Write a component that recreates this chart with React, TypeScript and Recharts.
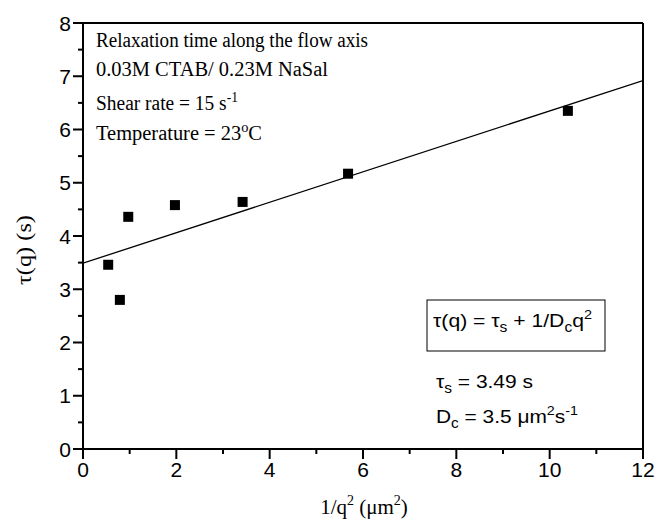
import { ScatterChart, Scatter, XAxis, YAxis, ReferenceLine } from "recharts";

// measured relaxation times
const invQ2 = [0.54, 0.79, 0.97, 1.97, 3.42, 5.68, 10.39];
const tau = [3.46, 2.8, 4.36, 4.58, 4.64, 5.17, 6.35];

// linear fit tau = 3.49 + x / 3.5, endpoints of the drawn line
const fitX = [0, 12];
const fitY = [3.49, 6.92];

const xTicks = [0, 1, 2, 3, 4, 5, 6, 7, 8, 9, 10, 11, 12];
const yTicks = [0, 0.5, 1, 1.5, 2, 2.5, 3, 3.5, 4, 4.5, 5, 5.5, 6, 6.5, 7, 7.5, 8];

const points = invQ2.map((x, i) => ({ x, y: tau[i] }));
const fit = fitX.map((x, i) => ({ x, y: fitY[i] }));

const W = 660;
const H = 522;
const tickFont = "'Liberation Sans', Arial, sans-serif";
const serif = "'Liberation Serif', 'Times New Roman', serif";

function XTick(props: any) {
  const { x, y, payload } = props;
  const major = payload.value % 2 === 0;
  return (
    <g>
      <line x1={x} x2={x} y1={y} y2={y + (major ? 10 : 5)} stroke="#000" strokeWidth={2} />
      {major && (
        <text x={x} y={y + 13} dy="0.71em" textAnchor="middle" fontSize={21} fontFamily={tickFont} fill="#000">
          {payload.value}
        </text>
      )}
    </g>
  );
}

function YTick(props: any) {
  const { x, y, payload } = props;
  const major = Number.isInteger(payload.value);
  return (
    <g>
      <line x1={x - (major ? 10 : 5)} x2={x} y1={y} y2={y} stroke="#000" strokeWidth={2} />
      {major && (
        <text x={x - 12} y={y} dy="0.36em" textAnchor="end" fontSize={21} fontFamily={tickFont} fill="#000">
          {payload.value}
        </text>
      )}
    </g>
  );
}

function Square(props: any) {
  const { cx, cy } = props;
  return <rect x={cx - 5} y={cy - 5} width={10} height={10} fill="#000" />;
}

export default function App() {
  return (
    <div style={{ position: "fixed", left: 0, top: 0, width: W, height: H, background: "#fff" }}>
      <ScatterChart width={W} height={H} margin={{ top: 23, right: 17, left: 0, bottom: 0 }}>
        <XAxis
          type="number"
          dataKey="x"
          domain={[0, 12]}
          ticks={xTicks}
          interval={0}
          height={73}
          tickSize={0}
          tickMargin={0}
          tick={<XTick />}
          axisLine={{ stroke: "#000", strokeWidth: 2 }}
          allowDataOverflow
        />
        <YAxis
          type="number"
          dataKey="y"
          domain={[0, 8]}
          ticks={yTicks}
          interval={0}
          width={83}
          tickSize={0}
          tickMargin={0}
          tick={<YTick />}
          axisLine={{ stroke: "#000", strokeWidth: 2 }}
          allowDataOverflow
        />
        <ReferenceLine y={8} stroke="#000" strokeWidth={2} />
        <ReferenceLine x={12} stroke="#000" strokeWidth={2} />
        <Scatter
          data={fit}
          line={{ stroke: "#000", strokeWidth: 1.3 }}
          shape={() => <g />}
          isAnimationActive={false}
        />
        <Scatter data={points} shape={<Square />} isAnimationActive={false} />
      </ScatterChart>
      <svg width={W} height={H} style={{ position: "absolute", left: 0, top: 0, pointerEvents: "none" }}>
        <g fontFamily={serif} fontSize={20} fill="#000">
          <text x={96} y={47} textLength={272} lengthAdjust="spacingAndGlyphs">
            Relaxation time along the flow axis
          </text>
          <text x={96} y={76} textLength={232} lengthAdjust="spacingAndGlyphs">
            0.03M CTAB/ 0.23M NaSal
          </text>
          <text x={96} y={110} textLength={142} lengthAdjust="spacingAndGlyphs">
            Shear rate = 15 s
            <tspan fontSize={14} dy={-8}>-1</tspan>
          </text>
          <text x={96} y={140} textLength={166} lengthAdjust="spacingAndGlyphs">
            Temperature = 23
            <tspan fontSize={14} dy={-8}>o</tspan>
            <tspan dy={8}>C</tspan>
          </text>
        </g>
        <rect x={427} y={300} width={178} height={51} fill="none" stroke="#000" strokeWidth={1} />
        <g fontFamily={tickFont} fontSize={19} fill="#000">
          <text x={433} y={327} textLength={159} lengthAdjust="spacingAndGlyphs">
            τ(q) = τ<tspan fontSize={14} dy={5}>s</tspan>
            <tspan dy={-5}> + 1/D</tspan>
            <tspan fontSize={14} dy={5}>c</tspan>
            <tspan dy={-5}>q</tspan>
            <tspan fontSize={13} dy={-8}>2</tspan>
          </text>
          <text x={436} y={388} textLength={97} lengthAdjust="spacingAndGlyphs">
            τ<tspan fontSize={14} dy={5}>s</tspan>
            <tspan dy={-5}> = 3.49 s</tspan>
          </text>
          <text x={436} y={423} textLength={142} lengthAdjust="spacingAndGlyphs">
            D<tspan fontSize={14} dy={5}>c</tspan>
            <tspan dy={-5}> = 3.5 μm</tspan>
            <tspan fontSize={13} dy={-8}>2</tspan>
            <tspan dy={8}>s</tspan>
            <tspan fontSize={13} dy={-8}>-1</tspan>
          </text>
        </g>
        <g fontFamily={serif} fontSize={22} fill="#000">
          <text
            x={23}
            y={250}
            transform="rotate(-90 23 250)"
            textAnchor="middle"
            dy="0.35em"
            textLength={70}
            lengthAdjust="spacingAndGlyphs"
          >
            τ(q) (s)
          </text>
          <text x={364} y={514} textAnchor="middle" fontSize={21}>
            1/q<tspan fontSize={14} dy={-9}>2</tspan>
            <tspan dy={9}> (μm</tspan>
            <tspan fontSize={14} dy={-9}>2</tspan>
            <tspan dy={9}>)</tspan>
          </text>
        </g>
      </svg>
    </div>
  );
}
